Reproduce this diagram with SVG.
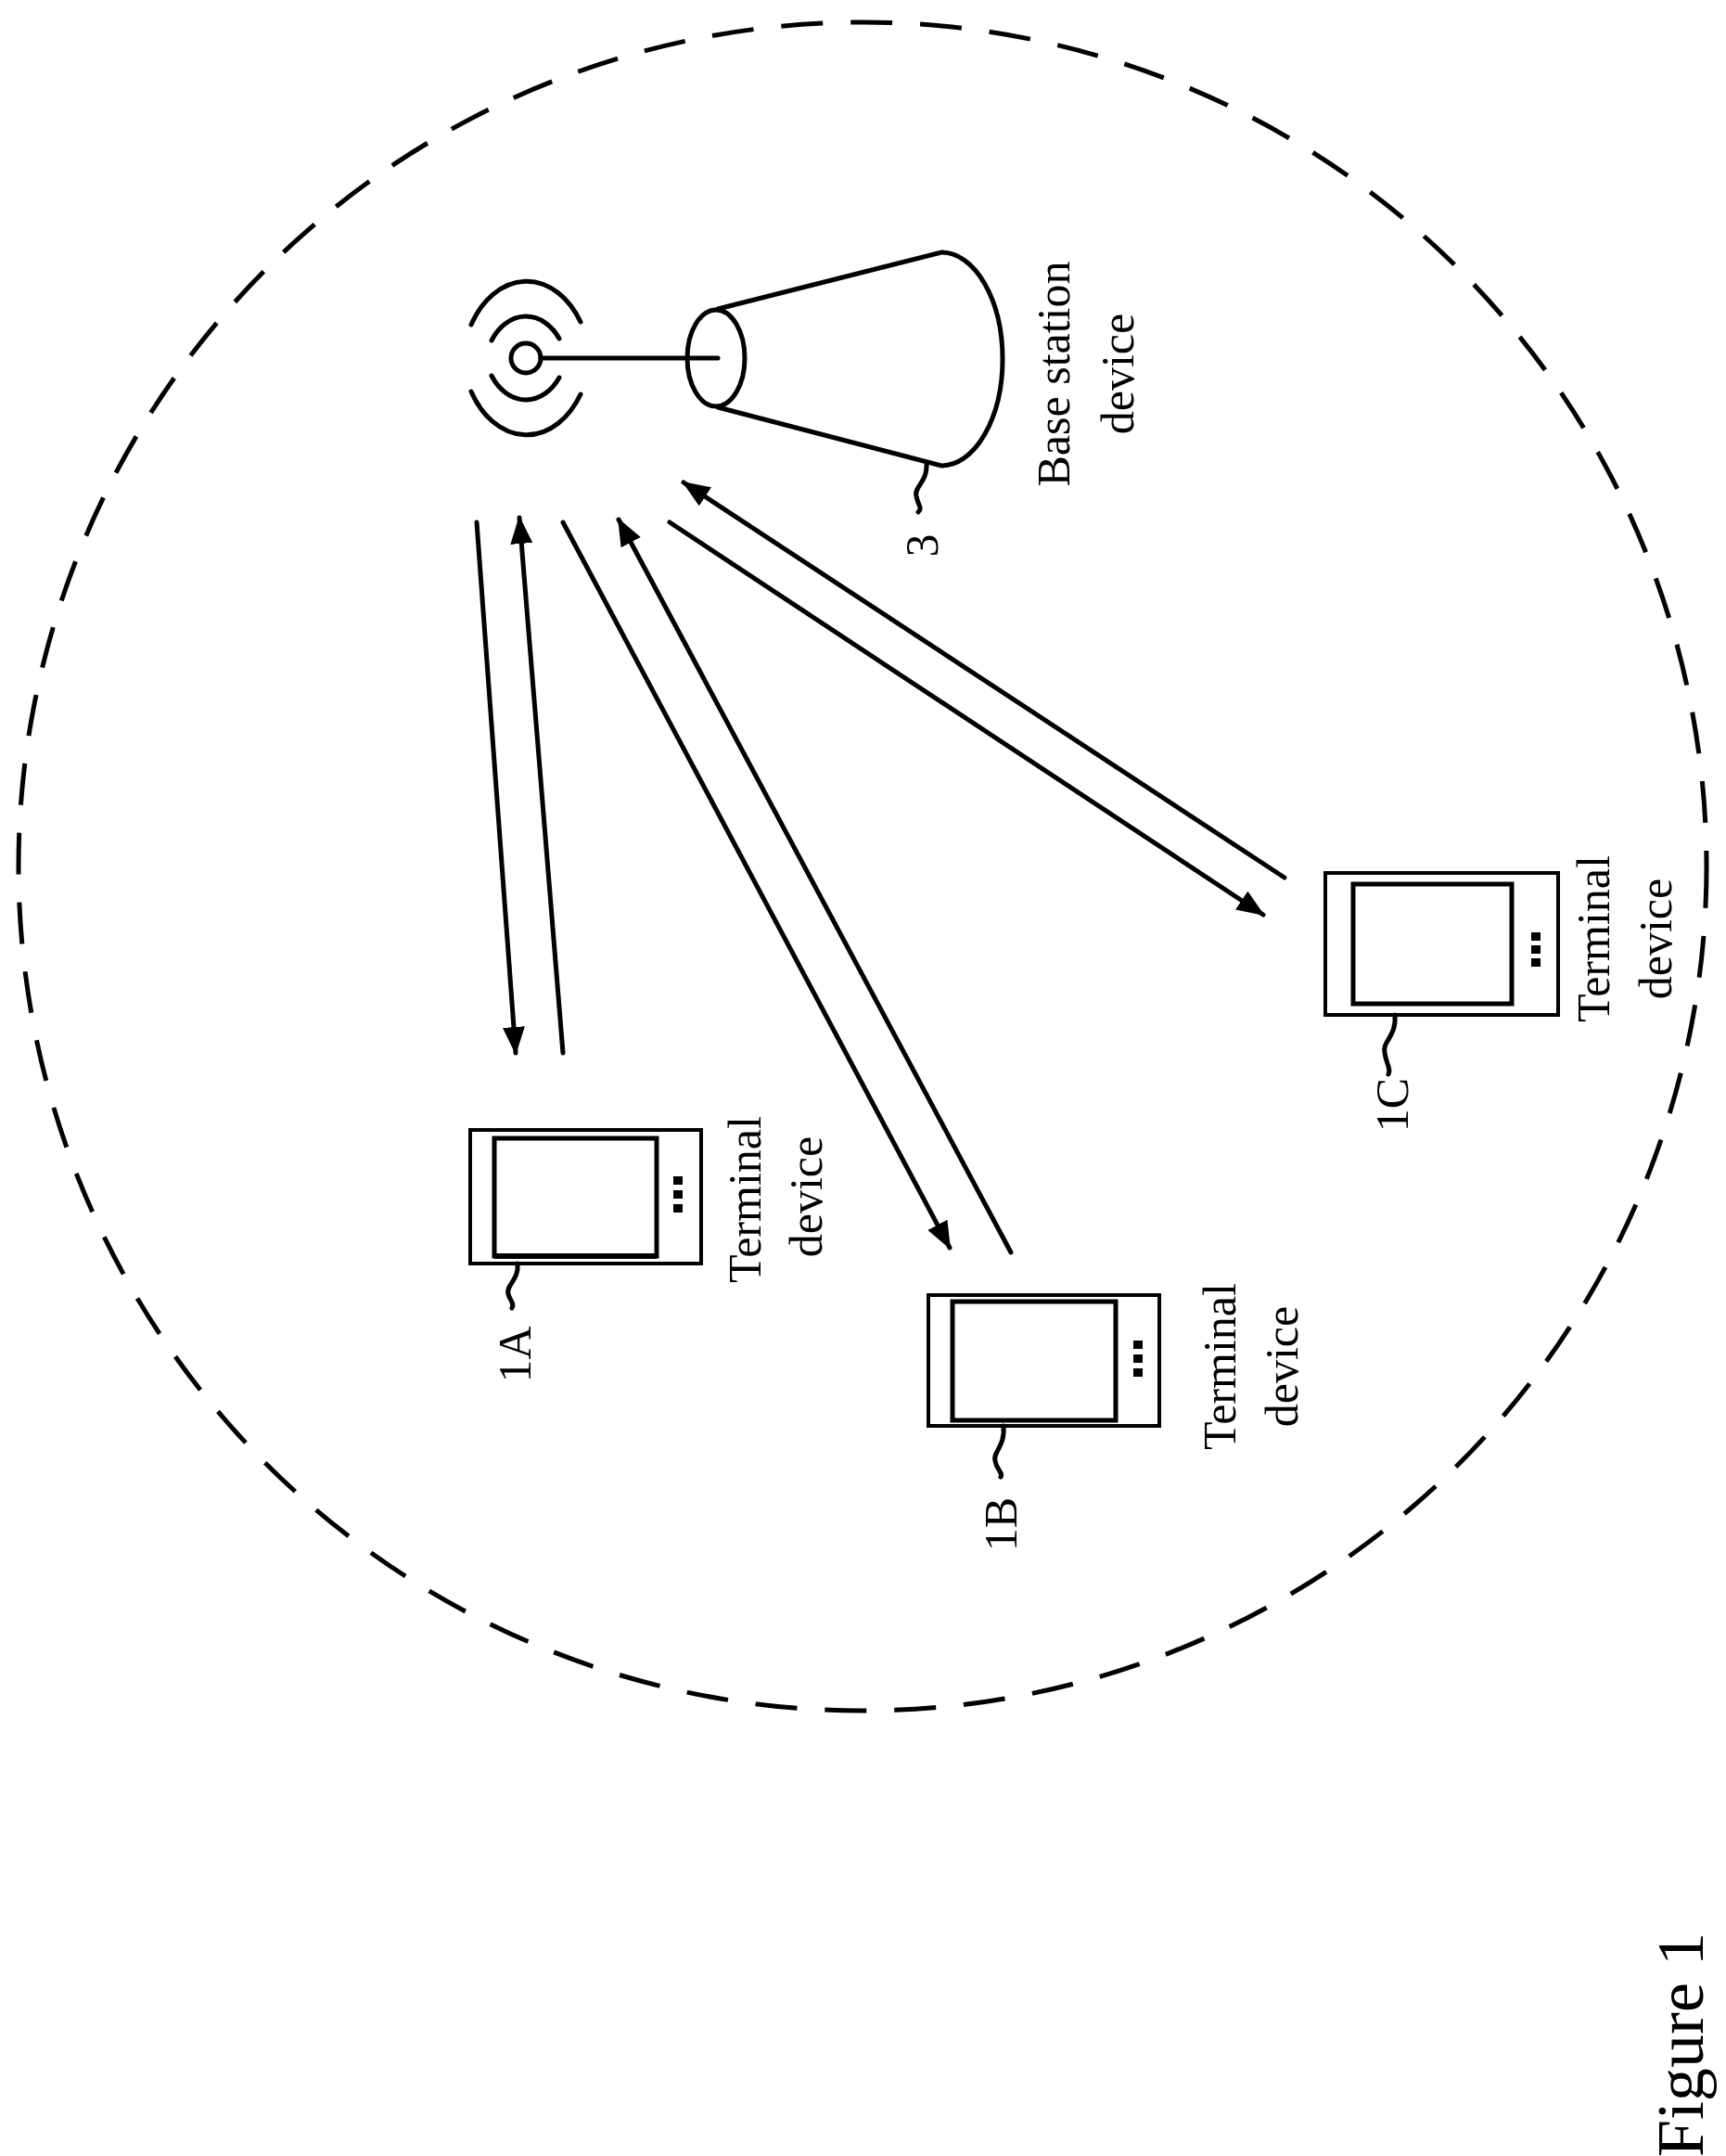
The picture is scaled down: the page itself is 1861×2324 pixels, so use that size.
<svg xmlns="http://www.w3.org/2000/svg" width="1861" height="2324" viewBox="0 0 1861 2324">
<style>
.s{fill:none;stroke:#000;stroke-width:5;stroke-linecap:round}
.t{font-family:"Liberation Serif",serif;font-size:50px;text-anchor:middle;fill:#000}
.c{stroke:#000;stroke-width:4;fill:none}
</style>
<defs>
<marker id="ah" markerUnits="userSpaceOnUse" markerWidth="30" markerHeight="24" refX="28" refY="12" orient="auto"><path d="M0,0 L30,12 L0,24 Z" fill="#000"/></marker>
</defs>
<rect width="1861" height="2324" fill="#fff"/>
<circle cx="930" cy="934" r="910" fill="none" stroke="#000" stroke-width="5" stroke-dasharray="45,30"/>
<g id="base">
<circle cx="567" cy="386" r="16" class="s"/>
<path class="s" d="M530,367 A45,60 0 0 1 603,365 M508,350 A70,98 0 0 1 626,347 M530,405 A45,60 0 0 0 603,407 M508,422 A70,98 0 0 0 626,425"/>
<path class="s" d="M583,386 H774"/>
<ellipse cx="772" cy="386" rx="31" ry="52" class="s"/>
<path class="s" d="M774,333 L1015,272 A66,115 0 0 1 1015,502 L774,439"/>
<path class="s" d="M999,500 C1000,520 985,525 988,535 C990,545 995,548 990,552"/>
<text class="t" transform="translate(1000,588) rotate(-90)" dominant-baseline="middle">3</text>
<text class="t" transform="translate(1153,403) rotate(-90)">Base station</text>
<text class="t" transform="translate(1222,403) rotate(-90)">device</text>
</g>
<g id="t1A">
<rect x="507" y="1218" width="249" height="144" class="c"/>
<rect x="533" y="1227" width="175" height="127" class="s"/>
<path d="M533,1354 H708" stroke="#000" stroke-width="6"/>
<rect x="726" y="1268" width="10" height="9"/><rect x="726" y="1283" width="10" height="9"/><rect x="726" y="1298" width="10" height="9"/>
<path class="s" d="M558,1362 C560,1380 545,1385 548,1395 C550,1402 555,1405 552,1410"/>
<text class="t" transform="translate(572,1460) rotate(-90)">1A</text>
<text class="t" transform="translate(820,1293) rotate(-90)">Terminal</text>
<text class="t" transform="translate(886,1290) rotate(-90)">device</text>
</g>
<g id="t1B">
<rect x="1001" y="1396" width="249" height="141" class="c"/>
<rect x="1027" y="1403" width="176" height="128" class="s"/>
<rect x="1222" y="1445" width="10" height="9"/><rect x="1222" y="1460" width="10" height="9"/><rect x="1222" y="1475" width="10" height="9"/>
<path class="s" d="M1082,1537 C1084,1560 1070,1565 1073,1575 C1075,1585 1082,1588 1079,1592"/>
<text class="t" transform="translate(1096,1643) rotate(-90)">1B</text>
<text class="t" transform="translate(1332,1473) rotate(-90)">Terminal</text>
<text class="t" transform="translate(1399,1473) rotate(-90)">device</text>
</g>
<g id="t1C">
<rect x="1429" y="941" width="251" height="153" class="c"/>
<rect x="1459" y="953" width="171" height="129" class="s"/>
<rect x="1651" y="1005" width="10" height="9"/><rect x="1651" y="1019" width="10" height="9"/><rect x="1651" y="1033" width="10" height="9"/>
<path class="s" d="M1504,1094 C1506,1118 1490,1122 1493,1135 C1495,1148 1500,1152 1497,1158"/>
<text class="t" transform="translate(1518,1191) rotate(-90)">1C</text>
<text class="t" transform="translate(1735,1012) rotate(-90)">Terminal</text>
<text class="t" transform="translate(1802,1012) rotate(-90)">device</text>
</g>
<g id="connectors" class="s">
<path d="M514,563 L556,1135" marker-end="url(#ah)"/>
<path d="M607,1135 L560,558" marker-end="url(#ah)"/>
<path d="M607,563 L1024,1345" marker-end="url(#ah)"/>
<path d="M1090,1350 L667,560" marker-end="url(#ah)"/>
<path d="M722,563 L1362,986" marker-end="url(#ah)"/>
<path d="M1385,946 L737,520" marker-end="url(#ah)"/>
</g>
<text transform="translate(1836,2204) rotate(-90)" font-family="'Liberation Serif',serif" font-size="72" text-anchor="middle">Figure 1</text>
</svg>
